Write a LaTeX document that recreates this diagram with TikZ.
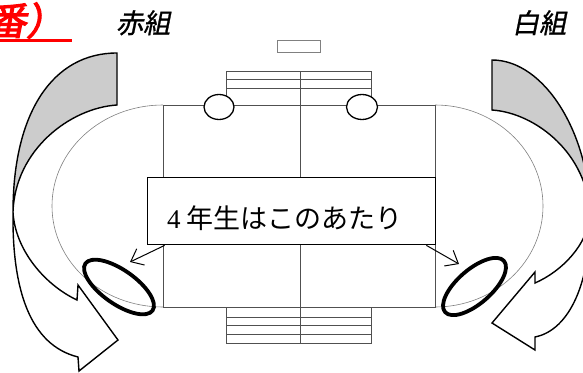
\documentclass[tikz,border=0pt]{standalone}
\usepackage{fontspec}
\newfontfamily\cjk{Noto Sans CJK JP}
\newfontfamily\cjksl[FakeSlant=0.2,FakeBold=1]{Noto Sans CJK JP}
\newfontfamily\cjkbold[FakeSlant=0.2,FakeBold=3]{Noto Sans CJK JP}
\newfontfamily\lserif{Liberation Serif}
\usetikzlibrary{arrows.meta}
\definecolor{grayfill}{RGB}{204,204,204}
\definecolor{trackgray}{RGB}{128,128,128}
\definecolor{linegray}{RGB}{80,80,80}
\definecolor{redtitle}{RGB}{255,0,0}
\begin{document}
\begin{tikzpicture}[x=1pt,y=-1pt,
  track/.style={draw=trackgray, line width=0.6pt},
  field/.style={draw=linegray, line width=0.8pt},
  bigarrow/.style={draw=black, line width=1.4pt, line join=miter},
  spot/.style={draw=black, line width=3.8pt},
  seat/.style={draw=black, line width=1.3pt, fill=white},
  msgbox/.style={draw=black, line width=1.8pt, fill=white, inner sep=0pt},
  msgtext/.style={inner sep=0pt, font=\cjk\fontsize{27}{27}\selectfont},
  team/.style={inner sep=0pt, font=\cjksl\fontsize{27}{27}\selectfont},
  pointer/.style={draw=black, line width=1pt, -{Straight Barb[length=11pt,width=18pt]}},
]
\useasboundingbox (0,0) rectangle (583,372);
\clip (0,0) rectangle (583,372);

% track
\draw[track] (163,105) arc[start angle=90,end angle=270,x radius=111pt,y radius=101pt];
\draw[track] (435,105) arc[start angle=90,end angle=-90,x radius=108pt,y radius=101pt];

% field
\draw[field] (163,105) rectangle (435,307);
\draw[field] (300,71) -- (300,343);
\draw[field] (226,105) -- (226,71) -- (371,71) -- (371,105);
\draw[field] (226,79) -- (371,79);
\draw[field] (226,88) -- (371,88);
\draw[field] (226,307) rectangle (371,343);
\draw[field] (226,317) -- (371,317);
\draw[field] (226,325) -- (371,325);
\draw[field] (226,334) -- (371,334);
\draw[draw=trackgray, line width=0.8pt] (277,40) rectangle (320,52);

% seats
\draw[seat] (219,107) ellipse[x radius=15pt, y radius=12.5pt];
\draw[seat] (362,107) ellipse[x radius=15.5pt, y radius=12.5pt];

% left curved arrow
\filldraw[bigarrow, fill=grayfill] (117,53) .. controls (52.5,53) and (13,113) .. (13,212)
   .. controls (15,150) and (70,108) .. (117,105) -- cycle;
\filldraw[bigarrow, fill=white] (13,212) .. controls (12,290) and (30,345) .. (78,357)
   -- (79,371) -- (118,340) -- (78,285) -- (77,300)
   .. controls (45,285) and (15,250) .. (13,212) -- cycle;

% right curved arrow
\filldraw[bigarrow, fill=grayfill] (492,60) .. controls (545,60) and (590,135) .. (590,215)
   .. controls (588,154) and (536,113) .. (492,110) -- cycle;
\filldraw[bigarrow, fill=white] (590,215) .. controls (591,281) and (570,330) .. (535,337)
   -- (535,350) -- (492,323) -- (535,272) -- (535,283)
   .. controls (562.5,271) and (588,244) .. (590,215) -- cycle;

% spots
\draw[spot, rotate around={-35:(119,287)}] (119,287) ellipse[x radius=41pt, y radius=17pt];
\draw[spot, rotate around={41:(474.5,286.5)}] (474.5,286.5) ellipse[x radius=39pt, y radius=17pt];

% message box
\node[msgbox, minimum width=288pt, minimum height=67pt] (box) at (291.5,211) {};
\node[msgtext, anchor=base west] (msg) at (167,228) {{\lserif 4} 年生はこのあたり};
\coordinate (lt) at (130,262);
\coordinate (rt) at (459,264);
\draw[pointer] ([xshift=18pt]box.south west) -- (lt);
\draw[pointer] ([xshift=-10pt]box.south east) -- (rt);

% team labels
\node[team, anchor=base west] (red) at (116,33) {赤組};
\node[team, anchor=base west] (white) at (512,33) {白組};

% red title fragment
\node[anchor=base west, inner sep=0pt, text=redtitle, font=\cjkbold\fontsize{38}{38}\selectfont] (title) at (-12,35) {番）};
\draw[redtitle, line width=2.5pt] (0,40.5) -- (72,40.5);
\end{tikzpicture}
\end{document}
